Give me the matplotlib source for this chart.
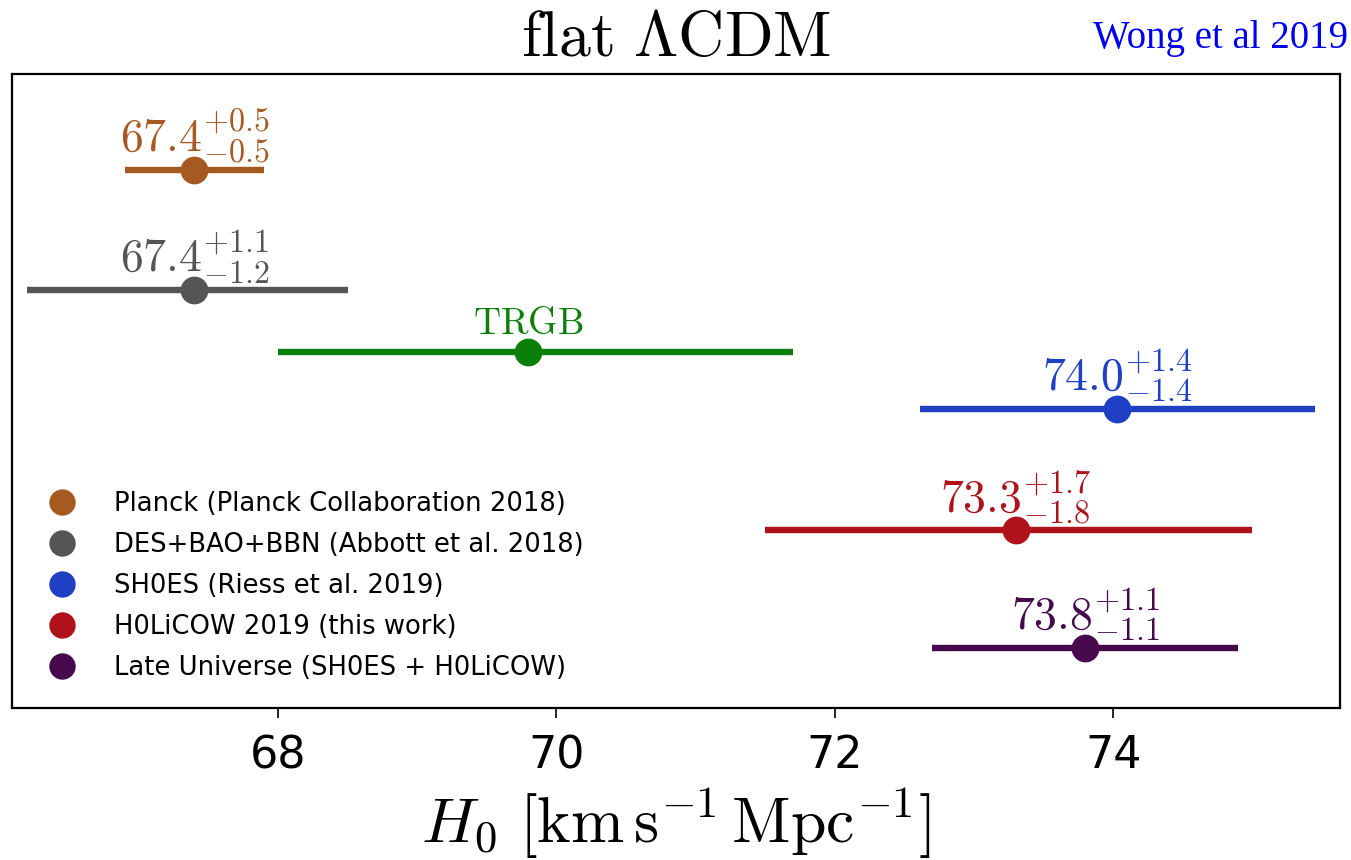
import matplotlib
matplotlib.use("Agg")
import matplotlib.pyplot as plt
from matplotlib.lines import Line2D

plt.rcParams["mathtext.fontset"] = "cm"

# H0 measurements (km/s/Mpc)
names = [
    "Planck (Planck Collaboration 2018)",
    "DES+BAO+BBN (Abbott et al. 2018)",
    "TRGB",
    "SH0ES (Riess et al. 2019)",
    "H0LiCOW 2019 (this work)",
    "Late Universe (SH0ES + H0LiCOW)",
]
h0 = [67.4, 67.4, 69.8, 74.03, 73.3, 73.8]
err_lo = [0.5, 1.2, 1.8, 1.42, 1.8, 1.1]
err_hi = [0.5, 1.1, 1.9, 1.42, 1.7, 1.1]
labels = [
    r"$67.4^{+0.5}_{-0.5}$",
    r"$67.4^{+1.1}_{-1.2}$",
    r"$\mathrm{TRGB}$",
    r"$74.0^{+1.4}_{-1.4}$",
    r"$73.3^{+1.7}_{-1.8}$",
    r"$73.8^{+1.1}_{-1.1}$",
]
colors = ["#a65a22", "#555555", "#0a800a", "#2040c4", "#b0121c", "#460a4c"]
in_legend = [True, True, False, True, True, True]
row_pos = [0.151, 0.341, 0.438, 0.528, 0.719, 0.905]

xticks = [68, 70, 72, 74]

fig = plt.figure(figsize=(13.51, 8.60), dpi=100)
ax = fig.add_axes([0.0089, 0.1767, 0.983, 0.7373])

for y, m, lo, hi, lab, c, shown in zip(row_pos, h0, err_lo, err_hi, labels, colors, in_legend):
    ax.plot([m - lo, m + hi], [y, y], color=c, lw=4.6, solid_capstyle="butt", zorder=2)
    ax.plot([m], [y], "o", color=c, ms=20, mec="none", zorder=3)
    ax.annotate(lab, xy=(m, y), xytext=(0, 13), textcoords="offset points",
                ha="center", va="baseline", color=c, fontsize=33 if shown else 27)

ax.set_xlim(66.09, 75.63)
ax.set_ylim(1.0, 0.0)
ax.set_yticks([])
ax.set_xticks(xticks)
ax.set_xticklabels([str(t) for t in xticks])
ax.tick_params(axis="x", direction="out", length=7, width=1.2, labelsize=32, pad=12)
for sp in ax.spines.values():
    sp.set_linewidth(1.6)

ax.set_xlabel(r"$H_0\ [\mathrm{km\,s^{-1}\,Mpc^{-1}}]$", fontsize=46, labelpad=6)
ax.set_title(r"$\mathrm{flat}\ \Lambda\mathrm{CDM}$", fontsize=46, pad=13)

handles = [Line2D([], [], ls="none", marker="o", ms=19, color=c, mec="none")
           for c, s in zip(colors, in_legend) if s]
leg_names = [n for n, s in zip(names, in_legend) if s]
ax.legend(handles, leg_names, loc="lower left", bbox_to_anchor=(0.02, 0.026),
          frameon=False, fontsize=18.6, handlelength=1.0, handletextpad=1.5,
          labelspacing=0.58, borderaxespad=0.0)

fig.text(0.998, 0.977, "Wong et al 2019", ha="right", va="top", color="#0000ee",
         fontsize=28, family="Liberation Serif")

fig.savefig("out.png", dpi=100)
